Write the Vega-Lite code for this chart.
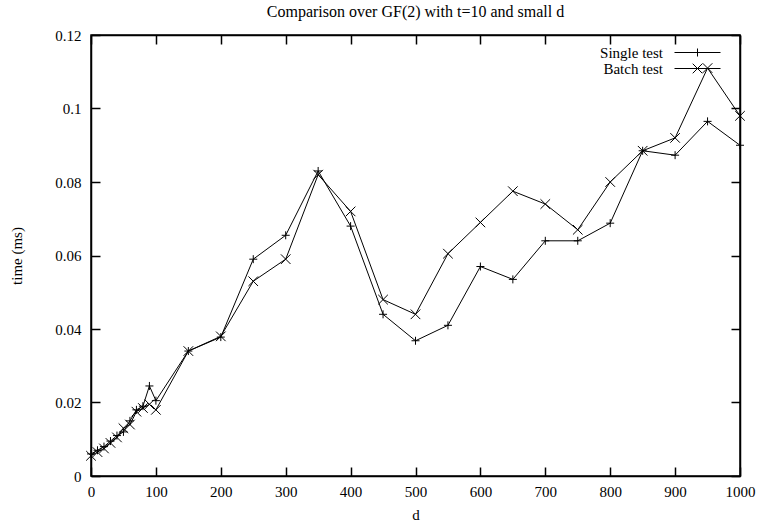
{
  "$schema": "https://vega.github.io/schema/vega-lite/v6.json",
  "autosize": "none",
  "width": 649,
  "height": 441,
  "padding": {"left": 91, "top": 35, "right": 20, "bottom": 51},
  "background": "white",
  "config": {
    "font": "Liberation Serif",
    "view": {"stroke": "black", "strokeWidth": 1.5},
    "axis": {"labelFont": "Liberation Serif", "titleFont": "Liberation Serif", "labelFontSize": 15, "titleFontSize": 15, "titleFontWeight": "normal", "labelColor": "black", "titleColor": "black", "domainColor": "black", "tickColor": "black", "grid": false, "tickSize": -9, "tickWidth": 1.5, "domainWidth": 1.5, "labelOverlap": false, "labelFlush": false},
    "legend": {"labelFont": "Liberation Serif", "labelFontSize": 15, "labelColor": "black"},
    "title": {"font": "Liberation Serif", "fontSize": 16, "fontWeight": "normal", "color": "black"}
  },
  "title": {"text": "Comparison over GF(2) with t=10 and small d", "offset": 8},
  "data": {"values": [
    {"d": 0, "series": "Single test", "t": 0.006},
    {"d": 10, "series": "Single test", "t": 0.007},
    {"d": 20, "series": "Single test", "t": 0.008},
    {"d": 30, "series": "Single test", "t": 0.0095},
    {"d": 40, "series": "Single test", "t": 0.011},
    {"d": 50, "series": "Single test", "t": 0.012},
    {"d": 60, "series": "Single test", "t": 0.015},
    {"d": 70, "series": "Single test", "t": 0.018},
    {"d": 80, "series": "Single test", "t": 0.019},
    {"d": 90, "series": "Single test", "t": 0.0245},
    {"d": 100, "series": "Single test", "t": 0.0205},
    {"d": 150, "series": "Single test", "t": 0.034},
    {"d": 200, "series": "Single test", "t": 0.0378},
    {"d": 250, "series": "Single test", "t": 0.059},
    {"d": 300, "series": "Single test", "t": 0.0655},
    {"d": 350, "series": "Single test", "t": 0.083},
    {"d": 400, "series": "Single test", "t": 0.068},
    {"d": 450, "series": "Single test", "t": 0.044},
    {"d": 500, "series": "Single test", "t": 0.0368},
    {"d": 550, "series": "Single test", "t": 0.041},
    {"d": 600, "series": "Single test", "t": 0.057},
    {"d": 650, "series": "Single test", "t": 0.0535},
    {"d": 700, "series": "Single test", "t": 0.064},
    {"d": 750, "series": "Single test", "t": 0.064},
    {"d": 800, "series": "Single test", "t": 0.0688},
    {"d": 850, "series": "Single test", "t": 0.0885},
    {"d": 900, "series": "Single test", "t": 0.0873},
    {"d": 950, "series": "Single test", "t": 0.0965},
    {"d": 1000, "series": "Single test", "t": 0.090},
    {"d": 0, "series": "Batch test", "t": 0.0055},
    {"d": 10, "series": "Batch test", "t": 0.0065},
    {"d": 20, "series": "Batch test", "t": 0.0075},
    {"d": 30, "series": "Batch test", "t": 0.009},
    {"d": 40, "series": "Batch test", "t": 0.0105},
    {"d": 50, "series": "Batch test", "t": 0.013},
    {"d": 60, "series": "Batch test", "t": 0.014},
    {"d": 70, "series": "Batch test", "t": 0.0175},
    {"d": 80, "series": "Batch test", "t": 0.0185},
    {"d": 90, "series": "Batch test", "t": 0.0195},
    {"d": 100, "series": "Batch test", "t": 0.018},
    {"d": 150, "series": "Batch test", "t": 0.034},
    {"d": 200, "series": "Batch test", "t": 0.038},
    {"d": 250, "series": "Batch test", "t": 0.053},
    {"d": 300, "series": "Batch test", "t": 0.059},
    {"d": 350, "series": "Batch test", "t": 0.082},
    {"d": 400, "series": "Batch test", "t": 0.072},
    {"d": 450, "series": "Batch test", "t": 0.048},
    {"d": 500, "series": "Batch test", "t": 0.044},
    {"d": 550, "series": "Batch test", "t": 0.0605},
    {"d": 600, "series": "Batch test", "t": 0.069},
    {"d": 650, "series": "Batch test", "t": 0.0775},
    {"d": 700, "series": "Batch test", "t": 0.074},
    {"d": 750, "series": "Batch test", "t": 0.067},
    {"d": 800, "series": "Batch test", "t": 0.080},
    {"d": 850, "series": "Batch test", "t": 0.0885},
    {"d": 900, "series": "Batch test", "t": 0.092},
    {"d": 950, "series": "Batch test", "t": 0.111},
    {"d": 1000, "series": "Batch test", "t": 0.098}
  ]},
  "layer": [
    {
      "mark": {"type": "line", "color": "black", "strokeWidth": 1},
      "encoding": {
        "x": {"field": "d", "type": "quantitative", "scale": {"domain": [0, 1000], "nice": false}, "axis": {"title": "d", "format": "d", "values": [0,100,200,300,400,500,600,700,800,900,1000], "labelPadding": 17, "titlePadding": 8}},
        "y": {"field": "t", "type": "quantitative", "scale": {"domain": [0, 0.12], "nice": false}, "axis": {"title": "time (ms)", "format": ".2~f", "values": [0,0.02,0.04,0.06,0.08,0.1,0.12], "labelPadding": 19, "titlePadding": 30}},
        "detail": {"field": "series"}
      }
    },
    {
      "mark": {"type": "point", "filled": false, "color": "black", "strokeWidth": 1, "opacity": 1},
      "encoding": {
        "x": {"field": "d", "type": "quantitative", "axis": {"orient": "top", "labels": false, "title": null, "values": [0,100,200,300,400,500,600,700,800,900,1000]}},
        "y": {"field": "t", "type": "quantitative", "axis": {"orient": "right", "labels": false, "title": null, "values": [0,0.02,0.04,0.06,0.08,0.1,0.12]}},
        "shape": {"field": "series", "type": "nominal",
          "scale": {"domain": ["Single test", "Batch test"], "range": ["M-1,0H1M0,-1V1", "M-1.2,-1.2L1.2,1.2M-1.2,1.2L1.2,-1.2"]},
          "legend": null
        },
        "size": {"value": 64}
      }
    },
    {
      "mark": {"type": "point", "filled": false, "color": "black", "strokeWidth": 1, "opacity": 0},
      "encoding": {
        "x": {"field": "d", "type": "quantitative", "axis": null},
        "y": {"field": "t", "type": "quantitative", "axis": null},
        "shape": {"field": "series", "type": "nominal",
          "scale": {"domain": ["Single test", "Batch test"], "range": ["M-5.75,0H5.75M0,-1V1", "M-5.75,0H5.75M-1.2,-1.2L1.2,1.2M-1.2,1.2L1.2,-1.2"]},
          "legend": {"title": null, "orient": "none", "legendX": 599, "legendY": 10, "padding": 0, "symbolSize": 64, "symbolStrokeColor": "black", "symbolStrokeWidth": 1, "symbolFillColor": "transparent", "symbolOpacity": 1, "labelAlign": "right", "labelOffset": -42, "rowPadding": -6}
        },
        "size": {"value": 64}
      }
    }
  ],
  "resolve": {"axis": {"x": "independent", "y": "independent"}, "scale": {"shape": "independent"}}
}
